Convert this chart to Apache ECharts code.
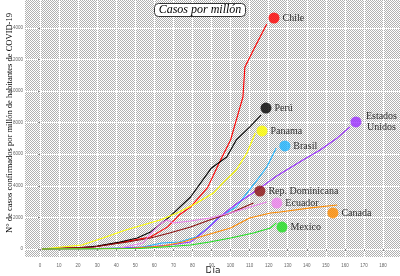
<!DOCTYPE html>
<html>
<head>
<meta charset="utf-8">
<script src="https://cdn.jsdelivr.net/npm/echarts@6/dist/echarts.min.js"></script>
<style>
  html, body { margin: 0; padding: 0; background: #fff; }
  #chart { width: 400px; height: 276px; }
</style>
</head>
<body>
<div id="chart"></div>
<script>
// casos por millón, [día, casos]
var chile = [[1,0],[28,130],[46,500],[58,760],[67,1400],[73,2150],[79,2650],[88,3900],[94,5440],[100,6900],[105,9000],[106.5,9620],[107.5,11500],[112,12600],[119,14240]];
var peru = [[1,0],[20,60],[30,180],[42,440],[51,700],[58,1080],[68,2030],[79,3290],[90,5130],[98,5820],[103,6900],[110,7720],[116,8480]];
var panama = [[1,0],[22,250],[33,700],[45,1200],[63,1835],[72,2280],[82,2900],[91,3540],[96,4180],[103,5000],[108.6,6080],[113,7340]];
var brasil = [[1,0],[30,20],[54,130],[64,380],[73,440],[82,760],[88,1330],[94,2030],[103,2660],[108.6,3540],[114,4370],[119,5190],[124,6390]];
var eeuu = [[1,0],[40,30],[56,130],[68,250],[79,440],[85,1000],[90,1520],[95,2100],[103,2850],[113,3650],[124,4600],[138,5630],[147,6270],[156,7030],[162.6,7720]];
var repDom = [[1,0],[28,130],[46,440],[58,700],[68,1010],[79,1390],[89,1835],[100,2280],[112,2910]];
var ecuador = [[1,0],[42,60],[54,380],[59,1080],[63,1580],[66.6,1835],[70,1650],[79,1770],[89,1960],[100,2280],[108.6,2600],[119,2970]];
var canada = [[1,0],[47,30],[64.5,190],[75,440],[82,700],[91,1010],[100,1330],[110,1960],[121,2280],[126,2340],[142,2600],[156,2780]];
var mexico = [[1,0],[52,30],[64.5,130],[79,250],[89,440],[100,700],[112,1010],[121,1330],[124,1650]];

var paises = ['Chile', 'Perú', 'Panama', 'Brasil', 'Estados\nUnidos', 'Rep. Dominicana', 'Ecuador', 'Canada', 'Mexico'];
var series_data = [chile, peru, panama, brasil, eeuu, repDom, ecuador, canada, mexico];
var colores = ['#ff0000', '#000000', '#ffff00', '#1eb4ff', '#9b30ff', '#8b1010', '#ee82ee', '#ff8c00', '#1fe01f'];
// donde van las etiquetas (ggrepel)
var etiquetas = [[122.8,14620],[118.6,8920],[116.5,7470],[128.5,6520],[165.8,8040],[115.4,3670],[124.3,2910],[153.7,2280],[127,1390]];

var xTicks = [0,10,20,30,40,50,60,70,80,90,100,110,120,130,140,150,160,170,180];
var yTicks = [0,2000,4000,6000,8000,10000,12000,14000];

// fondo tramado
var pat = document.createElement('canvas');
pat.width = 2; pat.height = 2;
var pctx = pat.getContext('2d');
pctx.fillStyle = '#ffffff';
pctx.fillRect(0, 0, 2, 2);
pctx.fillStyle = '#b0b0b0';
pctx.fillRect(0, 0, 1, 1);
pctx.fillRect(1, 1, 1, 1);

var myChart = echarts.init(document.getElementById('chart'));

var series = series_data.map(function (d, i) {
    return {
        name: paises[i],
        type: 'line',
        data: d,
        symbol: 'none',
        lineStyle: { color: colores[i], width: 1.1 },
        z: 3
    };
});
series.push({
    type: 'scatter',
    symbolSize: 11,
    z: 4,
    data: etiquetas.map(function (p, i) {
        var item = { name: paises[i], value: p, itemStyle: { color: colores[i] } };
        if (i === 4) {
            item.label = { align: 'center', offset: [17, 0] };
        }
        return item;
    }),
    label: {
        show: true,
        position: 'right',
        distance: 3,
        formatter: '{b}',
        color: '#000',
        fontFamily: 'Liberation Serif',
        fontSize: 10,
        lineHeight: 11
    }
});

var option = {
    animation: false,
    title: {
        text: 'Casos por millón',
        left: 'center',
        top: 3,
        padding: [1, 4],
        backgroundColor: '#fff',
        borderColor: '#333',
        borderWidth: 1,
        borderRadius: 4,
        textStyle: {
            fontFamily: 'Liberation Serif',
            fontStyle: 'italic',
            fontWeight: 'normal',
            fontSize: 12,
            color: '#000'
        }
    },
    grid: { left: 20.94, right: -2.06, top: -3.8, bottom: -4.6, outerBoundsMode: 'none', containLabel: false },
    graphic: [
        {
            type: 'rect',
            z: -10,
            silent: true,
            shape: { x: 25, y: 0, width: 375, height: 257 },
            style: { fill: { image: pat, repeat: 'repeat' } }
        },
        {
            type: 'text',
            x: 10, y: 123,
            rotation: Math.PI / 2,
            silent: true,
            style: {
                text: 'N° de casos confirmados por millón de habitantes de COVID-19',
                font: '8.5px "Liberation Serif"',
                fill: '#000',
                align: 'center',
                verticalAlign: 'middle'
            }
        },
        {
            type: 'text',
            x: 213, y: 271,
            silent: true,
            style: {
                text: 'Día',
                font: '9px "DejaVu Sans"',
                fill: '#222',
                align: 'center',
                verticalAlign: 'middle'
            }
        }
    ],
    xAxis: {
        type: 'value',
        min: -10,
        max: 190,
        interval: 10,
        offset: -23.6,
        axisLine: { show: false },
        axisTick: { show: true, length: 2, lineStyle: { color: '#888' }, customValues: xTicks },
        axisLabel: {
            customValues: xTicks,
            fontSize: 4.5, color: '#666', margin: 6,
            formatter: function (v) { return (v >= 0 && v <= 180) ? v : ''; }
        },
        splitLine: { show: true, lineStyle: { color: '#fff', width: 1 } }
    },
    yAxis: {
        type: 'value',
        min: -2000,
        max: 16000,
        interval: 2000,
        offset: -4.06,
        axisLine: { show: false },
        axisTick: { show: true, length: 2, lineStyle: { color: '#888' }, customValues: yTicks },
        axisLabel: {
            customValues: yTicks,
            fontSize: 4.5, color: '#666', margin: 2,
            formatter: function (v) { return (v >= 0 && v <= 14000) ? v : ''; }
        },
        splitLine: { show: true, lineStyle: { color: '#fff', width: 1 } }
    },
    series: series
};
myChart.setOption(option);
</script>
</body>
</html>
